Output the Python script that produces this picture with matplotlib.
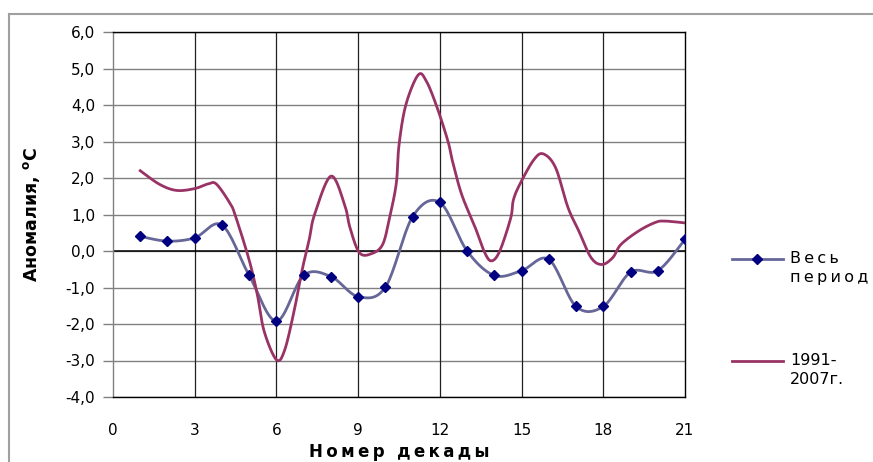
import matplotlib.pyplot as plt
import numpy as np
from matplotlib.lines import Line2D

# decade numbers and anomalies for the whole period
decades = list(range(1, 22))
whole_period = [0.40, 0.27, 0.36, 0.71, -0.67, -1.92, -0.67, -0.70, -1.25, -0.99, 0.94,
                1.33, 0.00, -0.67, -0.54, -0.23, -1.52, -1.52, -0.58, -0.54, 0.32]

# 1991-2007 curve
recent_x = [1.0, 1.7, 2.33, 3.0, 3.5, 3.8, 4.3, 4.5, 5.0, 5.3, 5.55, 6.0, 6.3, 6.65, 6.95,
            7.2, 7.4, 8.0, 8.5, 8.7, 9.05, 9.5, 9.9, 10.15, 10.4, 10.5, 10.75, 11.2, 11.5,
            11.9, 12.3, 12.45, 12.8, 13.3, 13.65, 13.9, 14.2, 14.6, 14.7, 14.95, 15.45,
            15.8, 16.25, 16.7, 17.1, 17.55, 17.95, 18.35, 18.65, 19.3, 19.9, 20.25, 21.0]
recent_y = [2.2, 1.83, 1.66, 1.71, 1.84, 1.83, 1.3, 0.95, -0.25, -1.2, -2.2, -2.98, -2.72,
            -1.64, -0.5, 0.3, 1.0, 2.05, 1.28, 0.64, -0.05, -0.07, 0.18, 0.9, 1.85, 2.9,
            4.0, 4.82, 4.66, 3.93, 3.0, 2.5, 1.55, 0.64, -0.05, -0.27, 0.0, 0.9, 1.4, 1.85,
            2.5, 2.66, 2.28, 1.2, 0.55, -0.18, -0.37, -0.18, 0.18, 0.55, 0.78, 0.82, 0.77]

x_ticks = [0, 3, 6, 9, 12, 15, 18, 21]
y_ticks = [-4, -3, -2, -1, 0, 1, 2, 3, 4, 5, 6]

W, H = 873, 462


# excel-like smoothed line (bezier through the points)
def smooth(xs, ys, n=20):
    p = np.column_stack([xs, ys]).astype(float)
    p = np.vstack([p[0], p, p[-1]])
    out = []
    t = np.linspace(0, 1, n)[:, None]
    for i in range(1, len(p) - 2):
        p0, p1, p2, p3 = p[i - 1], p[i], p[i + 1], p[i + 2]
        c1 = p1 + (p2 - p0) / 6
        c2 = p2 - (p3 - p1) / 6
        seg = (1 - t) ** 3 * p1 + 3 * (1 - t) ** 2 * t * c1 + 3 * (1 - t) * t ** 2 * c2 + t ** 3 * p2
        out.append(seg)
    out = np.vstack(out)
    return out[:, 0], out[:, 1]


def fx(px):
    return px / W


def fy(py):
    return 1 - py / H


fig = plt.figure(figsize=(W / 100, H / 100), dpi=100)
ax = fig.add_axes([fx(113), fy(397), (685 - 113) / W, (397 - 32) / H])

blue_line = '#666699'
blue_mark = '#000080'
red_line = '#993366'

sx, sy = smooth(decades, whole_period)
ax.plot(sx, sy, color=blue_line, lw=2.0, zorder=3)
ax.plot(decades, whole_period, 'D', color=blue_mark, ms=5.5, zorder=4)

rx, ry = smooth(recent_x, recent_y)
ax.plot(rx, ry, color=red_line, lw=2.0, zorder=3)

ax.set_xlim(0, 21)
ax.set_ylim(-4, 6)
ax.set_xticks(x_ticks)
ax.set_yticks(y_ticks)
ax.set_yticklabels([f"{v:.1f}".replace('.', ',') for v in y_ticks])
ax.tick_params(axis='x', length=0, pad=19, labelsize=11)
ax.tick_params(axis='y', length=7, width=1, color='#808080', pad=6, labelsize=11)

for v in y_ticks:
    ax.axhline(v, color='#808080', lw=1, zorder=1)
for v in x_ticks[1:-1]:
    ax.axvline(v, color='#202020', lw=0.9, zorder=1)
ax.axhline(0, color='black', lw=1.1, zorder=2)
for s in ax.spines.values():
    s.set_color('black')
    s.set_linewidth(1)
ax.spines['left'].set_color('#808080')

ax.set_ylabel('Аномалия, $^{\\mathregular{o}}$C', fontsize=12.5, fontweight='bold')
ax.yaxis.set_label_coords(-0.125, 0.5)
ax.set_xlabel('Н\u2009о\u2009м\u2009е\u2009р\u2009 \u2009д\u2009е\u2009к\u2009а\u2009д\u2009ы',
              fontsize=12, fontweight='bold')
ax.xaxis.set_label_coords(0.5, -0.125)

# legend drawn by hand to the right of the plot
fig.add_artist(Line2D([fx(732), fx(783)], [fy(259), fy(259)], color=blue_line, lw=2.0))
fig.add_artist(Line2D([fx(757)], [fy(259)], marker='D', color=blue_mark, ms=5.5))
fig.text(fx(790), fy(251), 'В\u2009е\u2009с\u2009ь\nп\u2009е\u2009р\u2009и\u2009о\u2009д', fontsize=11.5,
         va='top', ha='left', linespacing=1.3)
fig.add_artist(Line2D([fx(732), fx(783)], [fy(361), fy(361)], color=red_line, lw=2.0))
fig.text(fx(790), fy(353), '1991-\n2007г.', fontsize=11.5, va='top', ha='left', linespacing=1.3)

# chart area border
fig.add_artist(Line2D([fx(9), fx(W)], [fy(14), fy(14)], color='#a0a0a0', lw=1.5))
fig.add_artist(Line2D([fx(9), fx(9)], [fy(14), fy(H)], color='#a0a0a0', lw=1.5))

fig.savefig('out.png', dpi=100)
